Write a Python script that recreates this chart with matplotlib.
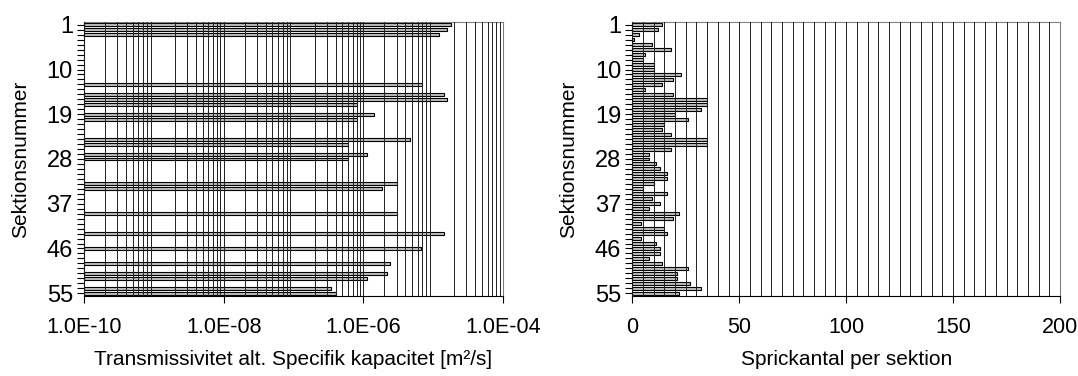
import numpy as np
import matplotlib
matplotlib.use("Agg")
import matplotlib.pyplot as plt
from matplotlib.ticker import FixedLocator, FuncFormatter, LogLocator, NullFormatter, MultipleLocator

plt.rcParams['font.family'] = ['Liberation Sans', 'DejaVu Sans']

# sektioner med uppmätt transmissivitet (övriga saknas)
t_sections = [1, 2, 3, 13, 15, 16, 17, 19, 20, 24, 25, 27, 28,
              33, 34, 39, 43, 46, 49, 51, 52, 54, 55]
t_values = [1.83e-5, 1.6e-5, 1.21e-5, 7.0e-6, 1.41e-5, 1.6e-5, 8.1e-7,
            1.4e-6, 8.1e-7, 4.6e-6, 6.0e-7, 1.12e-6, 6.0e-7,
            3.0e-6, 1.86e-6, 3.0e-6, 1.42e-5, 6.7e-6, 2.44e-6, 2.2e-6,
            1.12e-6, 3.4e-7, 4.0e-7]

# sprickantal per sektion, sektion 1..55
f_sections = list(range(1, 56))
f_values = [14, 12, 3, 1, 9, 18, 6, 5, 10, 10, 23, 19, 14, 6, 19, 35, 35, 32,
            20, 26, 15, 14, 18, 35, 35, 18, 8, 8, 11, 13, 16, 16, 10, 5, 16, 9,
            13, 8, 22, 19, 4, 15, 16, 4, 11, 13, 13, 8, 14, 26, 21, 21, 27, 32, 22]

y_labels = [1, 10, 19, 28, 37, 46, 55]

FS = 15.5
bar_kw = dict(height=0.6, color='#c0c0c0', edgecolor='black', linewidth=0.8, zorder=2)

fig = plt.figure(figsize=(10.78, 3.76), dpi=100)
ax1 = fig.add_axes([84 / 1078, 1 - 295.7 / 376, 419 / 1078, 273.4 / 376])
ax2 = fig.add_axes([632.3 / 1078, 1 - 295.7 / 376, 427.7 / 1078, 273.4 / 376])


def style_y(ax):
    ax.set_ylim(55.5, 0.5)
    ax.yaxis.set_major_locator(FixedLocator(f_sections))
    ax.yaxis.set_major_formatter(FuncFormatter(
        lambda v, p: str(int(round(v))) if int(round(v)) in y_labels else ''))
    ax.tick_params(axis='y', length=5, width=0.8, labelsize=17, pad=3)
    ax.tick_params(axis='x', which='major', length=5, width=0.8,
                   labelsize=FS, pad=10)
    ax.tick_params(axis='x', which='minor', length=0)
    ax.set_ylabel('Sektionsnummer', fontsize=15, labelpad=12)
    for s in ['top', 'right']:
        ax.spines[s].set_color('#808080')
        ax.spines[s].set_linewidth(0.8)
    for s in ['left', 'bottom']:
        ax.spines[s].set_linewidth(0.8)
    ax.set_axisbelow(False)


# vänster: transmissivitet, logaritmisk skala
ax1.barh(t_sections, np.array(t_values) - 1e-10, left=1e-10, **bar_kw)
ax1.set_xscale('log')
ax1.set_xlim(1e-10, 1e-4)
ax1.xaxis.set_major_locator(FixedLocator([1e-10, 1e-8, 1e-6, 1e-4]))
ax1.xaxis.set_major_formatter(FuncFormatter(lambda v, p: '%.1E' % v))
ax1.xaxis.set_minor_locator(LogLocator(base=10, subs=np.arange(2, 10), numticks=20))
ax1.xaxis.set_minor_formatter(NullFormatter())
ax1.grid(True, axis='x', which='both', color='#202020', linewidth=0.7, zorder=3)
style_y(ax1)
ax1.set_xlabel('Transmissivitet alt. Specifik kapacitet [m²/s]', fontsize=15, labelpad=9)

# höger: sprickantal
ax2.barh(f_sections, f_values, **bar_kw)
ax2.set_xlim(0, 200)
ax2.xaxis.set_major_locator(MultipleLocator(50))
ax2.xaxis.set_minor_locator(MultipleLocator(5))
ax2.grid(True, axis='x', which='both', color='#202020', linewidth=0.7, zorder=3)
style_y(ax2)
ax2.set_xlabel('Sprickantal per sektion', fontsize=15, labelpad=9)

fig.savefig('out.png', dpi=100)
